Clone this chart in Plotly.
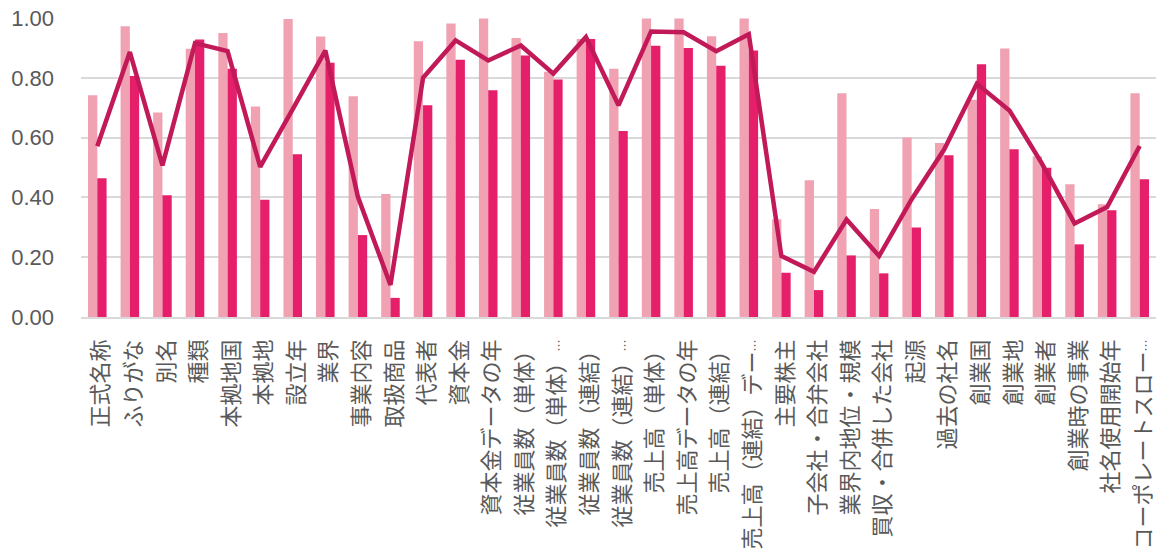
import plotly.graph_objects as go

categories = [
    "正式名称", "ふりがな", "別名", "種類", "本拠地国", "本拠地", "設立年", "業界",
    "事業内容", "取扱商品", "代表者", "資本金", "資本金データの年",
    "従業員数（単体）", "従業員数（単体）…", "従業員数（連結）", "従業員数（連結）…",
    "売上高（単体）", "売上高データの年", "売上高（連結）", "売上高（連結）デー…",
    "主要株主", "子会社・合弁会社", "業界内地位・規模", "買収・合併した会社",
    "起源", "過去の社名", "創業国", "創業地", "創業者", "創業時の事業",
    "社名使用開始年", "コーポレートスロー…",
]

series_a = [
    0.742, 0.972, 0.684, 0.897, 0.950, 0.704, 0.997, 0.938, 0.738, 0.411,
    0.922, 0.982, 0.998, 0.933, 0.820, 0.930, 0.830, 0.998, 0.998, 0.939,
    0.998, 0.327, 0.457, 0.748, 0.361, 0.600, 0.582, 0.727, 0.898, 0.538,
    0.444, 0.377, 0.748,
]

series_b = [
    0.464, 0.806, 0.407, 0.928, 0.830, 0.392, 0.544, 0.850, 0.274, 0.064,
    0.708, 0.860, 0.758, 0.875, 0.794, 0.930, 0.622, 0.907, 0.900, 0.840,
    0.891, 0.148, 0.090, 0.206, 0.146, 0.299, 0.541, 0.845, 0.561, 0.499,
    0.243, 0.357, 0.461,
]

series_line = [
    0.571, 0.886, 0.507, 0.916, 0.889, 0.502, 0.695, 0.891, 0.402, 0.107,
    0.800, 0.925, 0.858, 0.908, 0.814, 0.936, 0.708, 0.955, 0.952, 0.889,
    0.946, 0.204, 0.151, 0.326, 0.204, 0.394, 0.561, 0.780, 0.691, 0.513,
    0.313, 0.368, 0.572,
]

y_ticks = [0.0, 0.2, 0.4, 0.6, 0.8, 1.0]
y_tick_labels = ["0.00", "0.20", "0.40", "0.60", "0.80", "1.00"]

# truncated labels: draw the ellipsis in a smaller size so it stays compact
x_tick_text = [c.replace("…", '<span style="font-size:12px">…</span>') for c in categories]

fig = go.Figure()
fig.add_trace(go.Bar(x=categories, y=series_a, marker=dict(color="#F0A2B3", line_width=0)))
fig.add_trace(go.Bar(x=categories, y=series_b, marker=dict(color="#E61F6A", line_width=0)))
fig.add_trace(go.Scatter(
    x=categories, y=series_line, mode="lines",
    line=dict(color="#C21A58", width=4.5),
))

fig.update_layout(
    width=1158, height=550,
    margin=dict(l=81, r=2, t=18, b=233),
    paper_bgcolor="white", plot_bgcolor="white",
    showlegend=False,
    barmode="group", bargap=0.43, bargroupgap=0,
)
fig.update_xaxes(
    type="category",
    tickvals=categories, ticktext=x_tick_text,
    tickangle=-90,
    tickfont=dict(family="Noto Sans CJK JP", size=22, color="#595959"),
    ticks="", showline=True, linecolor="#D9D9D9", linewidth=1.5,
    ticklabelstandoff=12, ticklabelshift=4,
    showgrid=False, automargin=False,
)
fig.update_yaxes(
    range=[0, 1.0],
    tickvals=y_ticks, ticktext=y_tick_labels,
    tickfont=dict(family="Liberation Sans, Arial", size=22, color="#595959"),
    showgrid=True, gridcolor="#D9D9D9", gridwidth=1.5,
    zeroline=False, showline=False, ticks="",
    ticklabelstandoff=26, automargin=False,
)

fig.write_html("out.html")
